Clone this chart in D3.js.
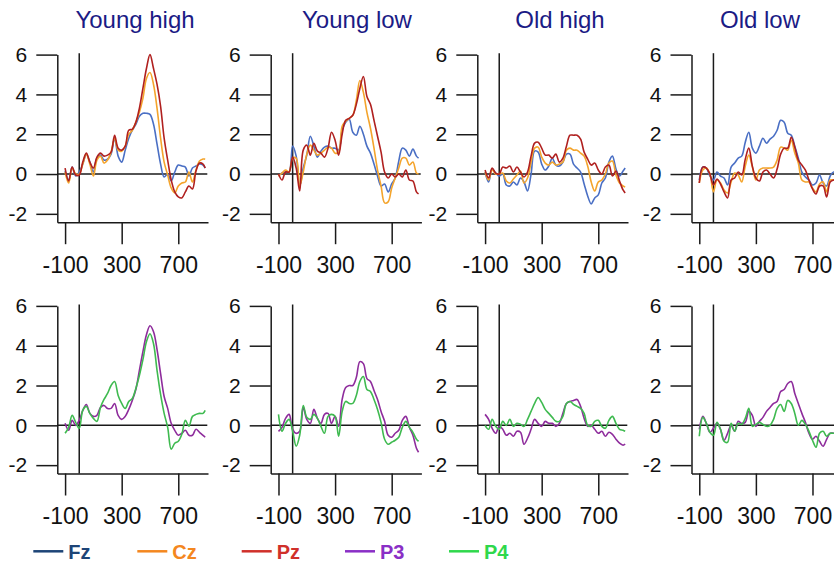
<!DOCTYPE html>
<html><head><meta charset="utf-8">
<script src="https://cdn.jsdelivr.net/npm/d3@7"></script>
<style>body{margin:0;background:#fff} svg{display:block}</style>
</head><body><svg id="chart" width="834" height="564"></svg>
<script>
const times = [-100,-75,-50,-25,0,25,50,75,100,125,150,175,200,225,250,275,300,325,350,375,400,425,450,475,500,525,550,575,600,625,650,675,700,725,750,775,800,825,850,875,890];
const conditions = ["Young high","Young low","Old high","Old low"];
const xTickValues = [-100,300,700];
const yTickValues = [-2,0,2,4,6];
const topChannels = ["Fz","Cz","Pz"];
const bottomChannels = ["P3","P4"];
const legendChannels = ["Fz","Cz","Pz","P3","P4"];

const youngHighFz = [0.15,-0.3,0.35,-0.1,0.1,0.5,1.0,0.6,0.1,0.8,0.95,0.7,0.75,1.0,1.8,0.9,0.6,1.2,1.8,2.2,2.5,2.9,3.05,3.05,3.0,2.5,1.5,0.5,-0.15,0.0,-0.35,0.1,0.45,0.4,0.35,-0.1,0.3,0.4,0.5,0.45,0.3];
const youngHighCz = [0.1,-0.45,0.3,0.0,0.0,0.5,1.0,0.5,-0.1,0.7,0.9,0.55,0.7,1.1,1.8,1.2,1.15,1.4,2.0,2.2,2.6,3.1,3.8,4.8,5.1,4.5,3.3,1.8,0.6,-0.05,-0.7,-0.95,-0.6,-0.45,-0.4,0.1,-0.4,0.2,0.65,0.75,0.75];
const youngHighPz = [0.3,-0.35,0.35,-0.05,-0.05,0.6,1.05,0.6,0.3,0.85,1.05,0.9,0.95,1.1,1.95,1.3,1.2,1.4,2.2,2.25,2.6,3.3,4.3,5.3,6.0,5.3,4.5,3.4,1.8,0.7,-0.3,-0.9,-1.15,-1.2,-0.9,-0.6,-0.75,0.15,0.55,0.5,0.3];
const youngLowFz = [-0.1,0.05,0.1,0.1,1.4,0.9,-0.6,0.3,0.95,1.9,1.4,0.85,1.15,1.35,1.4,1.3,1.3,1.2,2.2,2.6,2.75,2.1,1.95,2.4,2.0,1.4,1.05,0.5,-0.1,-0.6,-0.5,-0.9,-0.5,-0.2,0.65,1.3,1.2,0.9,1.25,0.9,0.8];
const youngLowCz = [-0.1,0.05,0.2,0.1,0.8,0.8,-0.6,0.1,1.0,1.45,1.2,0.95,1.05,1.2,1.35,1.3,1.05,1.1,2.4,2.65,2.8,2.95,3.7,4.7,4.1,3.1,2.3,1.3,0.2,-0.6,-1.45,-1.4,-0.7,-0.2,0.3,0.8,0.8,0.45,0.6,0.05,0.0];
const youngLowPz = [0.0,-0.3,0.1,0.1,0.85,0.3,-0.85,1.2,1.45,0.95,1.55,1.15,1.05,0.85,1.3,2.1,1.7,0.95,2.0,2.7,2.8,2.95,3.5,4.3,4.9,3.9,3.5,2.7,1.9,1.1,0.1,-0.2,0.0,-0.15,0.0,-0.15,0.2,-0.3,-0.35,-0.9,-1.0];
const oldHighFz = [0.1,-0.4,0.25,0.05,-0.1,0.0,-0.55,-0.6,-0.4,-0.55,-0.2,-0.4,-0.85,0.0,1.15,1.1,0.5,0.2,0.4,0.8,0.45,0.4,0.6,1.0,1.0,0.5,0.3,0.1,-0.5,-1.1,-1.5,-1.2,-1.05,-0.45,-0.2,0.6,0.9,0.25,-0.1,0.15,0.3];
const oldHighCz = [0.1,-0.3,0.2,0.0,0.0,0.05,-0.35,-0.45,-0.25,-0.05,0.15,-0.45,-0.2,0.6,1.3,1.35,0.85,0.55,0.45,0.6,0.45,0.5,0.6,1.2,1.3,1.2,1.2,1.05,0.9,0.4,-0.4,-0.85,-0.4,-0.3,0.0,0.55,0.65,-0.05,-0.45,-0.6,-0.65];
const oldHighPz = [0.2,-0.2,0.3,0.05,0.0,0.35,0.3,0.4,0.1,0.35,0.1,-0.15,0.1,0.9,1.55,1.6,1.3,0.95,0.95,0.8,1.0,0.6,0.8,1.4,1.95,1.95,1.95,1.75,1.1,0.75,0.45,0.55,0.2,0.0,0.35,0.45,-0.1,0.15,-0.35,-0.8,-0.95];
const oldLowFz = [-0.3,0.35,0.3,-0.1,-0.3,0.1,-0.1,-0.2,-0.55,0.35,0.55,0.8,0.9,1.6,2.1,1.3,1.05,1.4,1.8,1.55,1.75,1.9,2.2,2.7,2.6,2.05,1.95,1.4,0.8,0.1,-0.15,-0.3,-0.55,-0.45,-0.05,-0.45,-0.6,-0.1,0.1,0.0,-0.1];
const oldLowCz = [-0.45,0.2,0.3,0.0,-0.9,-0.3,-0.45,-0.8,-0.95,-0.4,0.05,-0.05,-0.4,0.4,0.95,0.35,-0.3,0.2,0.3,0.3,0.3,0.35,0.7,1.35,1.3,1.2,1.7,1.05,0.55,-0.3,-0.4,-0.4,-0.7,-0.9,-0.5,-0.4,-0.9,-0.3,-0.3,-0.3,-0.4];
const oldLowPz = [-0.45,0.35,0.3,0.0,-0.55,-0.25,-0.5,-0.9,-1.2,-0.3,-0.2,0.1,-0.05,0.75,1.3,0.4,-0.2,-0.35,0.1,0.2,0.0,-0.2,0.25,1.0,1.3,1.3,1.85,1.35,0.7,0.45,0.2,-0.3,-0.75,-1.0,-0.6,-0.6,-1.15,-0.4,-0.3,-0.3,-0.4];

const youngHighP3 = [0.1,-0.25,0.25,0.0,0.25,0.75,1.05,0.6,0.45,0.5,0.9,1.0,0.85,0.85,1.1,0.5,0.3,0.45,0.8,1.25,1.8,2.75,3.7,4.55,5.0,4.7,3.8,2.6,1.45,0.85,0.1,-0.25,-0.5,-0.4,-0.25,-0.5,-0.5,-0.2,-0.35,-0.5,-0.6];
const youngHighP4 = [-0.4,-0.1,0.5,0.15,-0.15,0.75,0.95,0.6,0.35,0.2,0.9,1.3,1.6,2.0,2.2,1.5,1.1,0.85,1.2,1.35,1.85,2.5,3.3,4.2,4.6,4.1,2.75,1.55,0.6,-0.1,-1.2,-0.9,-0.8,-0.45,0.25,-0.05,0.45,0.55,0.6,0.6,0.75];
const youngLowP3 = [-0.3,-0.1,0.35,0.55,-0.2,-0.4,-0.3,0.9,0.3,0.1,0.8,0.35,0.1,0.55,0.6,0.1,0.45,-0.05,1.3,1.9,2.0,2.0,2.4,3.2,3.1,2.35,2.2,1.75,1.3,0.7,0.2,-0.5,-0.6,-0.4,-0.25,0.25,0.45,-0.1,-0.5,-1.15,-1.35];
const youngLowP4 = [0.55,-0.3,0.1,0.3,-0.3,-1.05,-0.5,1.0,0.4,0.3,0.55,0.35,-0.05,-0.4,0.45,0.55,0.45,-0.55,0.7,1.2,1.1,1.1,1.5,2.2,2.45,1.8,1.7,1.3,0.8,0.15,-0.7,-0.95,-0.85,-0.75,-0.6,-0.1,0.2,-0.1,-0.35,-0.7,-0.8];
const oldHighP3 = [0.55,0.3,-0.15,-0.4,-0.05,-0.2,-0.5,-0.4,-0.55,-0.3,-0.35,-0.95,-0.65,-0.2,0.3,0.1,-0.05,0.2,0.1,0.1,-0.05,0.1,0.6,1.1,1.2,1.25,1.3,0.95,0.35,-0.05,0.0,-0.2,-0.4,-0.3,-0.55,-0.35,-0.45,-0.7,-0.9,-1.0,-0.95];
const oldHighP4 = [0.0,-0.2,0.3,-0.05,-0.2,0.2,0.0,0.3,-0.05,0.1,0.05,-0.05,0.3,0.7,1.1,1.4,1.15,0.8,0.6,0.4,0.2,0.2,0.45,1.1,1.2,1.05,0.95,0.85,0.6,0.0,-0.05,0.2,0.25,-0.05,-0.15,0.25,0.45,0.1,-0.2,-0.25,-0.3];
const oldLowP3 = [-0.2,0.45,0.1,-0.35,-0.15,0.1,-0.2,-0.75,-0.4,0.0,-0.3,0.2,0.1,0.15,0.7,0.5,-0.05,0.2,0.4,0.7,0.9,1.1,1.2,1.7,1.8,2.1,2.2,1.6,1.1,0.6,0.15,-0.4,-0.7,-0.55,-0.8,-1.05,-0.7,-0.4,-0.4,-0.4,-0.4];
const oldLowP4 = [-0.55,0.4,0.1,-0.35,-0.5,0.15,-0.2,-0.8,-0.85,0.1,-0.3,0.1,0.05,0.35,0.85,-0.05,0.05,0.15,0.05,-0.05,0.0,0.3,0.85,1.05,0.7,1.25,1.1,0.6,0.0,0.25,0.05,-0.3,-0.75,-1.1,-0.4,-0.3,-0.55,-0.4,-0.4,-0.4,-0.4];

const topRow = [
  [youngHighFz, youngHighCz, youngHighPz],
  [youngLowFz, youngLowCz, youngLowPz],
  [oldHighFz, oldHighCz, oldHighPz],
  [oldLowFz, oldLowCz, oldLowPz]
];
const bottomRow = [
  [youngHighP3, youngHighP4],
  [youngLowP3, youngLowP4],
  [oldHighP3, oldHighP4],
  [oldLowP3, oldLowP4]
];

const lineColors = {Fz:"#4a6fc4", Cz:"#f4a42c", Pz:"#b0201f", P3:"#8e2c9c", P4:"#3fba50"};
const legendColors = {Fz:"#1d4477", Cz:"#f4871f", Pz:"#d0302a", P3:"#8a2fc6", P4:"#2fd84c"};

const FONT = "'Liberation Sans', Arial, Helvetica, sans-serif";
const svg = d3.select("#chart");
const colX = [57.3, 270.7, 477.3, 691.5];
const titleX = [135, 357, 560, 760];
const rowZero = [174, 425.3];
const axisColor = "#1a1a1a";

function drawPanel(ax, y0, seriesList, channels) {
  const g = svg.append("g");
  const x = d3.scaleLinear().domain([-155, 910]).range([ax, ax + 150.7]);
  const y = d3.scaleLinear().domain([-2.42, 6]).range([y0 + 48.2, y0 - 119.4]);
  const yBottom = y(-2.42);

  const yAxis = g.append("g").attr("transform", `translate(${ax},0)`)
    .call(d3.axisLeft(y).tickValues(yTickValues).tickSize(21).tickSizeOuter(0)
      .tickPadding(9).tickFormat(d => String(d)));
  yAxis.selectAll("text").attr("font-family", FONT).attr("font-size", 21).attr("fill", "#111");

  const xAxis = g.append("g").attr("transform", `translate(0,${yBottom})`)
    .call(d3.axisBottom(x).tickValues(xTickValues).tickSize(22).tickSizeOuter(0)
      .tickFormat(d => String(d)));
  xAxis.selectAll("text").attr("font-family", FONT).attr("font-size", 23)
    .attr("fill", "#111").attr("y", 50.5).attr("dy", null);

  [yAxis, xAxis].forEach(a => {
    a.selectAll("path, line").attr("stroke", axisColor).attr("stroke-width", 1.5);
  });

  g.append("line").attr("x1", ax).attr("x2", ax + 150)
    .attr("y1", y(0)).attr("y2", y(0))
    .attr("stroke", axisColor).attr("stroke-width", 1.5);
  g.append("line").attr("x1", x(0)).attr("x2", x(0))
    .attr("y1", y(6.07)).attr("y2", yBottom)
    .attr("stroke", axisColor).attr("stroke-width", 1.5);

  const line = d3.line()
    .x((d, i) => x(times[i]))
    .y(d => y(d))
    .curve(d3.curveCatmullRom.alpha(0.5));

  seriesList.forEach((vals, k) => {
    g.append("path").datum(vals)
      .attr("d", line)
      .attr("fill", "none")
      .attr("stroke", lineColors[channels[k]])
      .attr("stroke-width", 1.6)
      .attr("stroke-linejoin", "round");
  });
}

conditions.forEach((c, i) => {
  svg.append("text").attr("x", titleX[i]).attr("y", 28)
    .attr("text-anchor", "middle").attr("font-family", FONT)
    .attr("font-size", 24).attr("fill", "#1b1b85").text(c);
  drawPanel(colX[i], rowZero[0], topRow[i], topChannels);
  drawPanel(colX[i], rowZero[1], bottomRow[i], bottomChannels);
});

const legX = [33.3, 137.3, 241.7, 345, 449];
legendChannels.forEach((ch, i) => {
  svg.append("line").attr("x1", legX[i]).attr("x2", legX[i] + 30)
    .attr("y1", 551.3).attr("y2", 551.3)
    .attr("stroke", legendColors[ch]).attr("stroke-width", 2.5);
  svg.append("text").attr("x", legX[i] + 35).attr("y", 558.7)
    .attr("font-family", FONT).attr("font-size", 20).attr("font-weight", "bold")
    .attr("fill", legendColors[ch]).text(ch);
});
</script></body></html>
